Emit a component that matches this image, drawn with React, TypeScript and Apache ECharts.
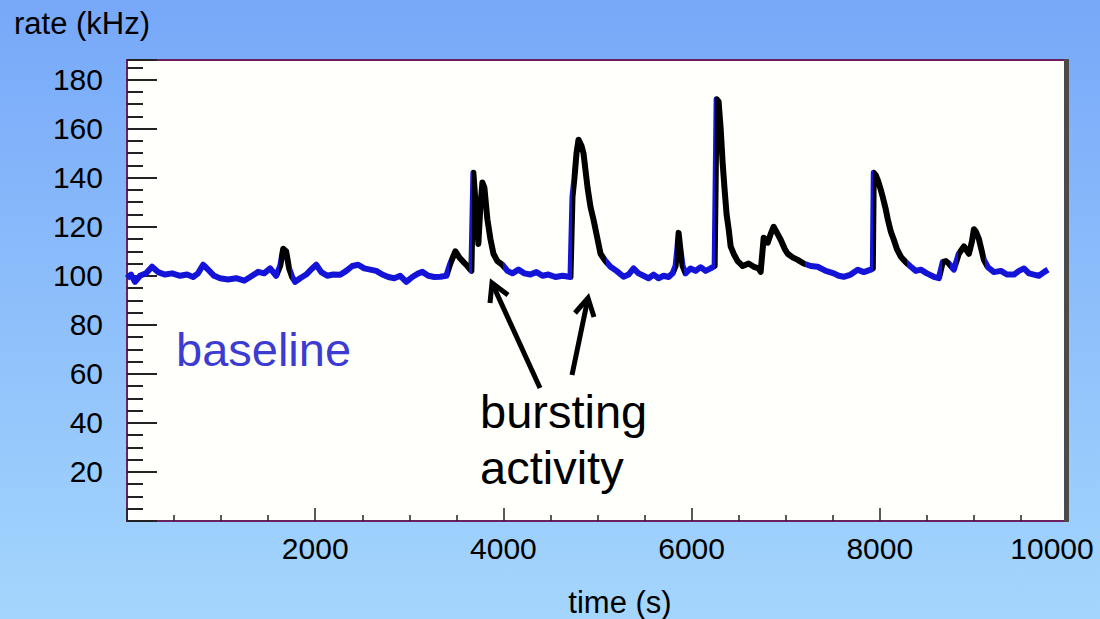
import React, { useEffect, useRef } from "react";
import * as echarts from "echarts";

// time (s)
const times = [
  0, 43, 85, 138, 202, 266, 330, 404, 479, 564, 638, 702, 755, 809, 862, 926, 989, 1074, 1160, 1245,
  1309, 1394, 1457, 1521, 1585, 1628, 1660, 1691, 1723, 1755, 1787, 1840, 1904, 1968, 2011, 2064, 2128, 2191, 2266, 2330,
  2394, 2457, 2521, 2585, 2649, 2713, 2777, 2840, 2904, 2968, 3032, 3096, 3138, 3202, 3266, 3330, 3394, 3436, 3489, 3532,
  3574, 3617, 3660, 3681, 3713, 3734, 3755, 3777, 3798, 3830, 3862, 3894, 3936, 3989, 4043, 4096, 4160, 4223, 4287, 4351,
  4415, 4479, 4553, 4628, 4713, 4734, 4755, 4777, 4798, 4830, 4851, 4894, 4926, 4957, 5000, 5032, 5085, 5138, 5202, 5277,
  5330, 5383, 5436, 5489, 5543, 5596, 5649, 5702, 5755, 5798, 5830, 5851, 5862, 5883, 5904, 5936, 5989, 6043, 6096, 6149,
  6202, 6245, 6266, 6287, 6309, 6330, 6351, 6372, 6394, 6415, 6447, 6489, 6543, 6606, 6670, 6713, 6734, 6766, 6809, 6840,
  6872, 6915, 6947, 6989, 7021, 7074, 7128, 7191, 7266, 7340, 7426, 7511, 7564, 7617, 7691, 7766, 7830, 7904, 7926, 7936,
  7957, 7979, 8011, 8032, 8064, 8085, 8117, 8149, 8181, 8223, 8277, 8330, 8383, 8436, 8500, 8574, 8628, 8670, 8702, 8734,
  8787, 8840, 8894, 8947, 8979, 9000, 9021, 9053, 9106, 9149, 9213, 9287, 9351, 9426, 9479, 9532, 9585, 9638, 9691, 9745,
  9787,
];

// rate (kHz)
const rates = [
  99, 100.5, 97.5, 100, 101, 103.7, 101.5, 100.5, 101, 100, 100.5, 99.5, 101, 104.5, 102.5, 100, 99, 98.5, 99, 98,
  99.5, 101.6, 101, 103, 100, 104, 111, 110, 103, 99.5, 97.5, 99, 100.5, 103, 104.5, 101.5, 100, 100.5, 100.4, 102,
  104, 104.5, 103, 102.5, 102, 100.5, 99.5, 99, 100, 97.5, 99.5, 101, 101.6, 100, 99.5, 99.6, 100, 105, 110, 107.5,
  105.7, 104, 102, 142, 125, 113, 128, 138, 136, 123, 115, 109, 106, 104.5, 102, 101, 102.5, 101, 100.5, 101.5,
  100, 100.5, 99.5, 100, 99.5, 132, 140, 150, 155.5, 153, 150, 136, 128, 123, 115, 109, 106, 103.7, 102, 99.6,
  100.5, 103, 101, 100, 99, 100.5, 99, 100, 99.5, 101, 104, 112, 117.5, 110, 104, 101, 103, 102, 103.5, 102,
  103, 104, 172, 171, 160, 146, 135, 125, 119, 112, 109, 106, 104, 105, 103.5, 103, 101.6, 115.5, 113.5, 117,
  120, 117, 114.7, 111, 109, 107.5, 106.5, 105, 104, 103.7, 102, 101, 100, 99.6, 100.5, 102.5, 101.5, 102.5, 103, 142,
  141, 139, 135, 132, 127, 123, 118, 114.7, 111, 107.8, 105.5, 103.7, 102, 102.5, 101, 99.6, 99, 105.7, 106, 105,
  102.5, 109, 112, 109, 114, 119, 118, 115, 106.5, 103.5, 101.5, 102, 100.5, 100.5, 102, 103, 101, 100.5, 100, 101.5,
  102.5,
];

// bursting intervals (s), drawn in black
const burstStarts = [1610, 3420, 3670, 4725, 5820, 6250, 7930, 8660, 8830];
const burstEnds = [1740, 3630, 3995, 5095, 5915, 7200, 8285, 8745, 9115];

const yTickLabels = [20, 40, 60, 80, 100, 120, 140, 160, 180];
const xTickLabels = [2000, 4000, 6000, 8000, 10000];

const FONT = "Liberation Sans, Arial, sans-serif";
const BLUE = "#1414d8";
const BLACK = "#000000";

export default function App() {
  const ref = useRef<HTMLDivElement>(null);

  useEffect(() => {
    if (!ref.current) return;
    const chart = echarts.init(ref.current, undefined, { renderer: "svg" });

    const data = times.map((t, i) => [t, rates[i]]);

    const pieces: any[] = [];
    let prev = -Infinity;
    burstStarts.forEach((s, i) => {
      if (prev === -Infinity) pieces.push({ lt: s, color: BLUE });
      else pieces.push({ gt: prev, lt: s, color: BLUE });
      pieces.push({ gte: s, lte: burstEnds[i], color: BLACK });
      prev = burstEnds[i];
    });
    pieces.push({ gt: prev, color: BLUE });

    const arrow = (from: number[], tip: number[], a1: number[], a2: number[]) => [
      {
        type: "polyline",
        shape: { points: [from, tip] },
        style: { stroke: "#000", lineWidth: 5, fill: null },
        z: 100,
      },
      {
        type: "polyline",
        shape: { points: [a1, tip, a2] },
        style: { stroke: "#000", lineWidth: 5, fill: null, lineJoin: "miter" },
        z: 100,
      },
    ];

    chart.setOption({
      animation: false,
      backgroundColor: new echarts.graphic.LinearGradient(0, 0, 0, 1, [
        { offset: 0, color: "#77a8f9" },
        { offset: 1, color: "#a4d6fd" },
      ]),
      grid: {
        left: 127,
        right: 32,
        top: 60,
        bottom: 98,
        show: true,
        backgroundColor: "#fffffb",
        borderColor: "#6b2060",
        borderWidth: 2,
      },
      visualMap: {
        type: "piecewise",
        show: false,
        dimension: 0,
        seriesIndex: 0,
        pieces,
      },
      xAxis: {
        type: "value",
        min: 0,
        max: 10000,
        interval: 2000,
        axisLine: { show: true, lineStyle: { color: "#6b2060", width: 2 } },
        axisTick: { show: true, inside: true, length: 13, lineStyle: { color: "#222", width: 1.5 } },
        minorTick: { show: true, splitNumber: 4, length: 6, lineStyle: { color: "#222", width: 1.5 } },
        splitLine: { show: false },
        axisLabel: {
          margin: 12,
          fontSize: 30,
          fontFamily: FONT,
          color: "#000",
          formatter: (v: number) => {
            if (!xTickLabels.includes(v)) return "";
            if (v === xTickLabels[xTickLabels.length - 1]) return "{m|" + v + "}";
            return String(v);
          },
          rich: {
            m: { fontSize: 30, fontFamily: FONT, color: "#000", padding: [0, 32, 0, 0] },
          },
        },
      },
      yAxis: {
        type: "value",
        min: 0,
        max: 188,
        interval: 20,
        axisLine: { show: true, lineStyle: { color: "#6b2060", width: 2 } },
        axisTick: { show: true, inside: true, length: 30, lineStyle: { color: "#222", width: 2 } },
        minorTick: { show: true, splitNumber: 4, length: 16, lineStyle: { color: "#222", width: 2 } },
        splitLine: { show: false },
        axisLabel: {
          margin: 24,
          fontSize: 30,
          fontFamily: FONT,
          color: "#000",
          formatter: (v: number) => (yTickLabels.includes(v) ? String(v) : ""),
        },
      },
      series: [
        {
          type: "line",
          data,
          showSymbol: false,
          symbol: "none",
          lineStyle: { width: 6, join: "round" },
          z: 5,
        },
      ],
      graphic: [
        {
          type: "rect",
          shape: { x: 1064, y: 59, width: 5, height: 463 },
          style: { fill: "#4a4a4a" },
          z: 50,
        },
        {
          type: "text",
          x: 14,
          y: 23,
          style: { text: "rate (kHz)", font: `31px ${FONT}`, fill: "#000", verticalAlign: "middle" },
          z: 100,
        },
        {
          type: "text",
          x: 620,
          y: 602,
          style: { text: "time (s)", font: `31px ${FONT}`, fill: "#000", align: "center", verticalAlign: "middle" },
          z: 100,
        },
        {
          type: "text",
          x: 176,
          y: 349,
          style: { text: "baseline", font: `47px ${FONT}`, fill: "#3c3cd2", verticalAlign: "middle" },
          z: 100,
        },
        {
          type: "text",
          x: 480,
          y: 411,
          style: { text: "bursting", font: `47px ${FONT}`, fill: "#000", verticalAlign: "middle" },
          z: 100,
        },
        {
          type: "text",
          x: 480,
          y: 467,
          style: { text: "activity", font: `47px ${FONT}`, fill: "#000", verticalAlign: "middle" },
          z: 100,
        },
        ...arrow([540, 388], [492, 283], [490, 303], [508, 295]),
        ...arrow([572, 375], [588, 298], [575, 313], [594, 317]),
      ],
    });

    return () => chart.dispose();
  }, []);

  return (
    <div
      ref={ref}
      style={{ position: "fixed", left: 0, top: 0, width: 1100, height: 619 }}
    />
  );
}
